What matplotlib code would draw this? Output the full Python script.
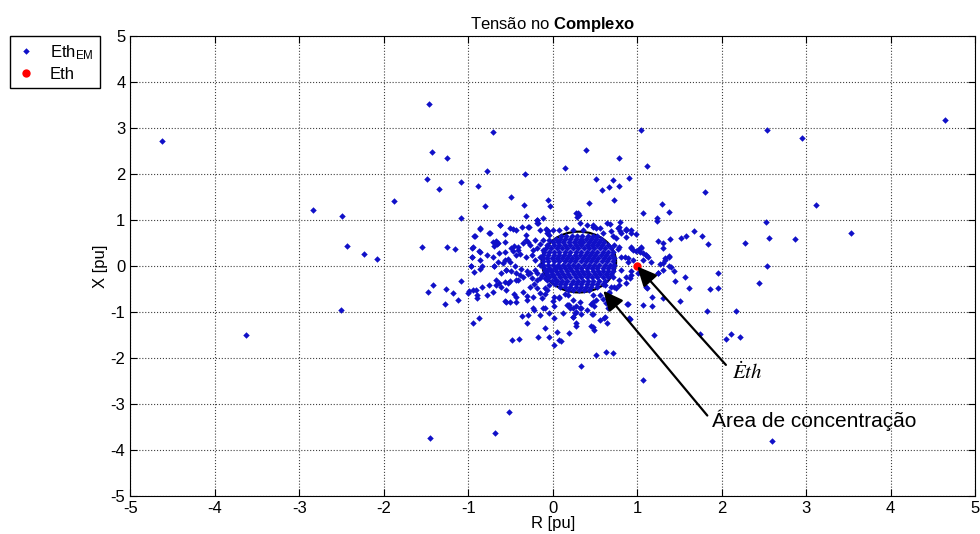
import numpy as np
import matplotlib
matplotlib.use("Agg")
import matplotlib.pyplot as plt
from matplotlib.patches import Ellipse

plt.rcParams['font.family'] = ['Liberation Sans', 'DejaVu Sans']
plt.rcParams['mathtext.fontset'] = 'custom'
plt.rcParams['mathtext.rm'] = 'Liberation Sans'
plt.rcParams['mathtext.it'] = 'Liberation Sans:italic'
plt.rcParams['mathtext.bf'] = 'Liberation Sans:bold'
plt.rcParams['axes.unicode_minus'] = False

# %% data (R, X)
far_pts = [
    (-4.62, 2.72), (-3.63, -1.51), (-2.84, 1.22), (-2.50, 1.09), (-2.43, 0.43), (-2.23, 0.25),
    (-2.08, 0.14), (-2.51, -0.96), (-1.88, 1.42), (-1.47, 3.52), (-1.43, 2.48), (-1.25, 2.34),
    (-1.49, 1.88), (-1.35, 1.67), (-1.55, 0.42), (-1.25, 0.41), (-1.16, 0.36), (-1.48, -0.57),
    (-1.42, -0.41), (-1.26, -0.51), (-1.18, -0.58), (-1.28, -0.83), (-1.12, -0.75), (-0.71, 2.92),
    (4.64, 3.17), (1.04, 2.96), (2.54, 2.96), (2.95, 2.79), (1.12, 2.17), (0.90, 1.90), (1.80, 1.60),
    (3.12, 1.33), (1.29, 1.35), (1.38, 1.18), (1.07, 1.14), (1.24, 1.05), (1.24, 0.98), (2.52, 0.95),
    (3.53, 0.71), (1.67, 0.75), (1.77, 0.65), (1.84, 0.47), (1.58, 0.64), (1.52, 0.61), (1.39, 0.58),
    (1.25, 0.54), (1.31, 0.49), (2.28, 0.49), (2.56, 0.60), (2.87, 0.58), (2.54, -0.01), (2.44, -0.38),
    (1.96, -0.15), (1.96, -0.47), (1.86, -0.51), (1.61, -0.47), (1.57, -0.24), (1.45, -0.32),
    (1.44, -0.12), (1.40, -0.03), (1.38, 0.22), (1.33, 0.12), (1.30, 0.06), (1.25, -0.16), (1.16, 0.09),
    (1.10, 0.24), (1.04, 0.39), (0.98, 0.32), (0.93, 0.39), (0.87, 0.78), (0.80, 0.75), (0.93, 0.71),
    (0.98, 0.70), (1.51, -0.77), (1.31, -0.69), (1.17, -0.67), (1.18, -0.88), (1.07, -0.85),
    (0.88, -0.82), (1.11, -0.45), (1.83, -0.97), (2.17, -0.97), (0.91, -1.15), (1.20, -1.51),
    (1.74, -1.48), (2.05, -1.59), (2.11, -1.48), (2.22, -1.54), (-1.45, -3.73), (-0.68, -3.62),
    (-0.52, -3.17), (2.59, -3.81), (1.07, -2.48), (0.33, -2.18), (0.51, -1.94), (0.63, -1.86),
    (0.71, -1.90), (-0.48, -1.61), (-0.40, -1.59), (-0.18, -1.54), (-0.04, -1.54), (0.02, -1.72),
    (0.07, -1.61), (0.05, -1.44), (0.19, -1.46), (0.27, -1.30), (0.45, -1.30), (0.49, -1.39),
    (0.61, -1.13), (-0.94, -1.23), (-0.87, -1.14), (-0.36, -1.08), (-0.29, -1.07), (-0.30, -1.25),
    (-0.09, -1.34), (-0.23, -0.91), (-0.22, -0.95), (-0.12, -0.92), (-0.09, -0.92), (0.02, -1.14),
    (0.17, -0.84), (0.20, -0.91), (0.27, -0.99), (0.33, -0.92), (0.24, -1.12), (0.48, -1.04),
    (0.45, -0.82), (0.49, -0.88), (0.65, -0.91), (0.63, -0.80), (0.89, -0.83), (-0.55, -0.78),
    (-0.43, -0.79), (0.10, -1.64),
]

near_pts = [
    (-0.78, 2.07), (-0.33, 2.00), (-1.08, 1.83), (-0.89, 1.74), (-0.49, 1.49), (-0.80, 1.30),
    (-0.34, 1.33), (-0.06, 1.43), (-0.03, 1.30), (-1.08, 1.04), (-0.32, 1.09), (-0.19, 1.00),
    (-0.12, 1.04), (-0.19, 0.93), (-0.86, 0.80), (-0.62, 0.88), (-0.47, 0.80), (-0.36, 0.84),
    (-0.28, 0.84), (-0.74, 0.71), (-0.57, 0.69), (-0.93, 0.64), (-0.32, 0.67), (-0.15, 0.78),
    (-0.08, 0.80), (-0.06, 0.75), (-0.95, 0.40), (-0.87, 0.33), (-0.67, 0.54), (-0.66, 0.48),
    (-0.69, 0.43), (-0.56, 0.52), (-0.46, 0.43), (-0.41, 0.41), (-0.47, 0.33), (-0.43, 0.24),
    (-0.32, 0.57), (-0.29, 0.51), (-0.23, 0.35), (-0.19, 0.38), (-0.15, 0.47), (-0.64, 0.28),
    (-0.53, 0.15), (-0.57, 0.13), (-0.95, 0.20), (-0.86, 0.13), (-0.97, 0.00), (-0.84, 0.00),
    (-0.69, -0.01), (-0.39, 0.25), (-0.32, 0.20), (-0.25, 0.24), (-0.21, 0.13), (-0.15, 0.20),
    (-0.11, 0.35), (-0.07, 0.46), (-0.04, 0.57), (-0.07, 0.71), (0.00, 0.78),
    (0.39, 2.51), (0.79, 2.35), (0.14, 2.12), (0.51, 1.88), (0.71, 1.86), (0.58, 1.64), (0.67, 1.71),
    (0.78, 1.74), (0.73, 1.43), (0.43, 1.37), (0.30, 1.16), (0.31, 1.11), (0.29, 1.06), (0.80, 0.96),
    (0.48, 0.88), (0.51, 0.82), (0.68, 0.91), (0.77, 0.82), (0.87, 0.80), (0.93, 0.77), (0.60, 0.71),
    (0.71, 0.65), (0.81, 0.72), (0.87, 0.62), (1.31, 0.39), (1.33, 0.17), (1.38, 0.20), (1.27, 0.04),
    (0.93, 0.41), (1.01, 0.35), (1.05, 0.42), (1.07, 0.29), (1.11, 0.24), (0.89, 0.17), (0.95, 0.12),
    (0.81, 0.20), (0.77, 0.36), (0.73, 0.46),
    (-1.09, -0.32), (-0.99, -0.54), (-0.91, -0.52), (-0.90, -0.63), (-0.93, -0.14), (-0.86, -0.07),
    (-0.97, -0.01), (-0.70, -0.01), (-0.67, -0.41), (-0.64, -0.38), (-0.57, -0.35), (-0.51, -0.33),
    (-0.41, -0.30), (-0.39, -0.20), (-0.31, -0.12), (-0.55, -0.52), (-0.46, -0.62), (-0.56, -0.76),
    (-0.31, -0.65), (-0.19, -0.49), (-0.22, -0.40), (-0.13, -0.69), (-0.09, -0.62), (-0.15, -1.07),
    (0.00, -0.76), (0.02, -0.67), (-0.07, -0.52), (-0.04, -0.41), (0.04, -0.30), (0.00, -0.20),
    (-0.09, -0.27), (-0.55, -0.09), (-0.49, -0.11), (-0.43, -0.16), (-0.37, -0.07), (-0.29, -0.18),
    (-0.25, -0.27), (-0.19, -0.16), (-0.15, -0.27), (-0.07, -0.12), (-0.02, -0.09), (0.04, -0.05),
    (0.24, -1.10), (0.26, -1.03), (0.33, -1.05), (0.47, -1.05), (0.62, -1.12), (0.90, -1.14),
    (0.32, -0.91), (0.24, -0.91), (0.19, -0.85), (0.32, -0.79), (0.48, -0.78), (0.60, -0.72),
    (0.65, -0.67), (0.56, -0.63), (0.67, -0.56), (0.75, -0.49), (0.69, -0.45), (0.79, -0.41),
    (0.87, -0.38), (0.91, -0.27), (0.93, -0.20), (1.01, -0.16), (1.09, -0.23), (1.15, -0.20),
    (1.12, -0.47), (1.38, -0.01), (1.31, -0.09), (1.25, -0.16), (0.08, -0.69), (0.14, -0.62),
    (0.18, -0.63),
]

ring_pts = [
    (-0.62, 0.89), (-0.51, 0.82), (-0.43, 0.78), (-0.29, 0.85), (-0.19, 1.00), (-0.17, 0.93),
    (-0.07, 0.78), (-0.04, 0.67), (-0.11, 0.57), (-0.21, 0.57), (-0.27, 0.46), (-0.35, 0.49),
    (-0.41, 0.35), (-0.49, 0.38), (-0.57, 0.31), (-0.65, 0.49), (-0.71, 0.53), (-0.75, 0.71),
    (-0.86, 0.82), (-0.92, 0.64), (-0.94, 0.42), (-0.96, 0.20), (-0.86, 0.31), (-0.78, 0.24),
    (-0.71, 0.20), (-0.65, 0.09), (-0.59, 0.06), (-0.51, 0.09), (-0.45, -0.01), (-0.55, -0.09),
    (-0.61, -0.16), (-0.67, -0.30), (-0.75, -0.41), (-0.84, -0.45), (-0.94, -0.52), (-1.00, -0.59),
    (-0.90, -0.70), (-0.78, -0.63), (-0.71, -0.56), (-0.61, -0.45), (-0.53, -0.38), (-0.43, -0.30),
    (-0.35, -0.23), (-0.27, -0.16), (-0.21, -0.09), (-0.15, 0.02), (-0.19, -0.30), (-0.27, -0.45),
    (-0.35, -0.56), (-0.43, -0.67), (-0.51, -0.78), (-0.31, -0.74), (-0.23, -0.67), (-0.15, -0.59),
    (-0.09, -0.49), (-0.07, -0.30), (-0.13, -0.20),
    (0.79, 0.42), (0.85, 0.20), (0.89, 0.09), (0.95, 0.35), (1.03, 0.31), (1.07, 0.13), (1.13, 0.20),
    (0.93, -0.12), (0.87, -0.23), (0.79, -0.30), (0.73, -0.45), (0.67, -0.59), (0.62, -0.41),
    (0.71, -0.23), (0.81, -0.09), (0.87, 0.78), (0.79, 0.85), (0.69, 0.75), (0.64, 0.93), (0.56, 0.82),
    (0.75, 0.60),
    (0.28, 1.15), (0.32, 0.93), (0.40, 0.89), (0.48, 0.85), (0.16, 0.82), (0.08, 0.78), (0.24, 0.78),
    (0.36, 0.78),
    (0.08, -0.67), (0.18, -0.85), (0.28, -0.88), (0.40, -0.96), (0.51, -0.74), (0.48, -0.63),
    (0.24, -0.74), (0.02, -0.88), (-0.04, -1.03), (0.12, -1.03), (0.28, -1.25), (0.48, -1.32),
    (0.56, -1.17), (0.64, -1.25),
]

# dense core inside the ellipse: one row of R values per X level
core_x_levels = [0.65, 0.59, 0.52, 0.45, 0.38, 0.31, 0.24, 0.17, 0.10, 0.03,
                 -0.04, -0.11, -0.18, -0.25, -0.32, -0.39, -0.46, -0.53]
core_r_rows = [
    [0.10, 0.16, 0.23, 0.29, 0.35, 0.42, 0.48, 0.53],
    [0.04, 0.09, 0.15, 0.21, 0.27, 0.33, 0.39, 0.45, 0.51, 0.57],
    [0.00, 0.06, 0.12, 0.19, 0.25, 0.31, 0.36, 0.43, 0.49, 0.55, 0.61],
    [-0.05, 0.02, 0.08, 0.14, 0.21, 0.28, 0.33, 0.40, 0.46, 0.52, 0.58, 0.65],
    [-0.08, -0.02, 0.05, 0.11, 0.17, 0.24, 0.30, 0.37, 0.43, 0.49, 0.56, 0.62, 0.69],
    [-0.10, -0.04, 0.02, 0.08, 0.15, 0.21, 0.27, 0.34, 0.40, 0.46, 0.53, 0.59, 0.65, 0.71],
    [-0.11, -0.05, 0.01, 0.07, 0.13, 0.19, 0.26, 0.32, 0.38, 0.44, 0.50, 0.57, 0.63, 0.70],
    [-0.12, -0.07, -0.01, 0.05, 0.11, 0.17, 0.23, 0.29, 0.36, 0.42, 0.48, 0.54, 0.61, 0.67, 0.73],
    [-0.11, -0.05, 0.02, 0.08, 0.14, 0.20, 0.26, 0.33, 0.39, 0.45, 0.51, 0.58, 0.64, 0.71],
    [-0.12, -0.06, 0.00, 0.06, 0.12, 0.18, 0.24, 0.30, 0.37, 0.43, 0.49, 0.55, 0.62, 0.68, 0.73],
    [-0.10, -0.04, 0.03, 0.09, 0.15, 0.21, 0.28, 0.34, 0.40, 0.46, 0.52, 0.59, 0.65, 0.71],
    [-0.09, -0.02, 0.04, 0.10, 0.17, 0.23, 0.29, 0.35, 0.41, 0.48, 0.54, 0.60, 0.66, 0.71],
    [-0.07, -0.01, 0.06, 0.12, 0.18, 0.25, 0.31, 0.37, 0.43, 0.50, 0.56, 0.63, 0.69],
    [-0.04, 0.02, 0.09, 0.15, 0.21, 0.27, 0.34, 0.40, 0.46, 0.52, 0.59, 0.65],
    [-0.01, 0.05, 0.11, 0.17, 0.24, 0.30, 0.36, 0.42, 0.48, 0.55, 0.62],
    [0.03, 0.09, 0.15, 0.22, 0.28, 0.34, 0.40, 0.46, 0.53, 0.59],
    [0.09, 0.15, 0.21, 0.27, 0.33, 0.39, 0.45, 0.52],
    [0.18, 0.24, 0.31, 0.37, 0.43],
]

eth_r, eth_x = 1.0, 0.0

# %% build the Eth_EM series
pts = np.array(far_pts + near_pts + ring_pts)
core_r = np.concatenate([np.array(row) for row in core_r_rows])
core_x = np.concatenate([np.full(len(row), lv) for row, lv in zip(core_r_rows, core_x_levels)])
em_r = np.concatenate([pts[:, 0], core_r])
em_x = np.concatenate([pts[:, 1], core_x])

# %% plot
fig = plt.figure(figsize=(9.8, 5.34), dpi=100)
ax = fig.add_axes([0.133, 0.071, 0.862, 0.862])

ax.plot(em_r, em_x, 'D', color='#1010c8', ms=3.3, mew=0, label=r'Eth$_{\mathrm{EM}}$')
ax.plot(eth_r, eth_x, 'o', color='#ff0000', ms=6, mew=0, label='Eth')

ax.add_patch(Ellipse((0.31, 0.085), 0.88, 1.32, fill=False, ec='k', lw=1.6))

arrow = dict(arrowstyle='-|>,head_length=0.6,head_width=0.28', color='k', lw=1.6,
             shrinkA=0, shrinkB=0, mutation_scale=20)
ax.annotate('', xy=(1.00, -0.01), xytext=(2.05, -2.15), arrowprops=arrow)
ax.annotate('', xy=(0.60, -0.54), xytext=(1.83, -3.25), arrowprops=arrow)
ax.text(2.12, -2.30, r'$\dot{E}th$', fontsize=15, va='center', ha='left', math_fontfamily='stix')
ax.text(1.89, -3.35, 'Área de concentração', fontsize=15, va='center', ha='left')

ax.set_xlim(-5, 5)
ax.set_ylim(-5, 5)
ax.set_xticks(range(-5, 6))
ax.set_yticks(range(-5, 6))
ax.tick_params(direction='in', top=True, right=True, labelsize=12, length=5)
ax.grid(True, linestyle=':', color='#404040', lw=0.8)
ax.set_axisbelow(True)
ax.set_xlabel('R [pu]', fontsize=12, labelpad=0)
ax.set_ylabel('X [pu]', fontsize=12, labelpad=2)
ax.set_title(r'Tensão no $\mathbf{Complexo}$', fontsize=12, pad=5)

fig.legend(loc='upper left', bbox_to_anchor=(0.010, 0.932), fontsize=12, fancybox=False,
           edgecolor='k', framealpha=1, borderaxespad=0, handlelength=1.2, borderpad=0.4,
           labelspacing=0.3)

fig.savefig('out.png', dpi=100)
